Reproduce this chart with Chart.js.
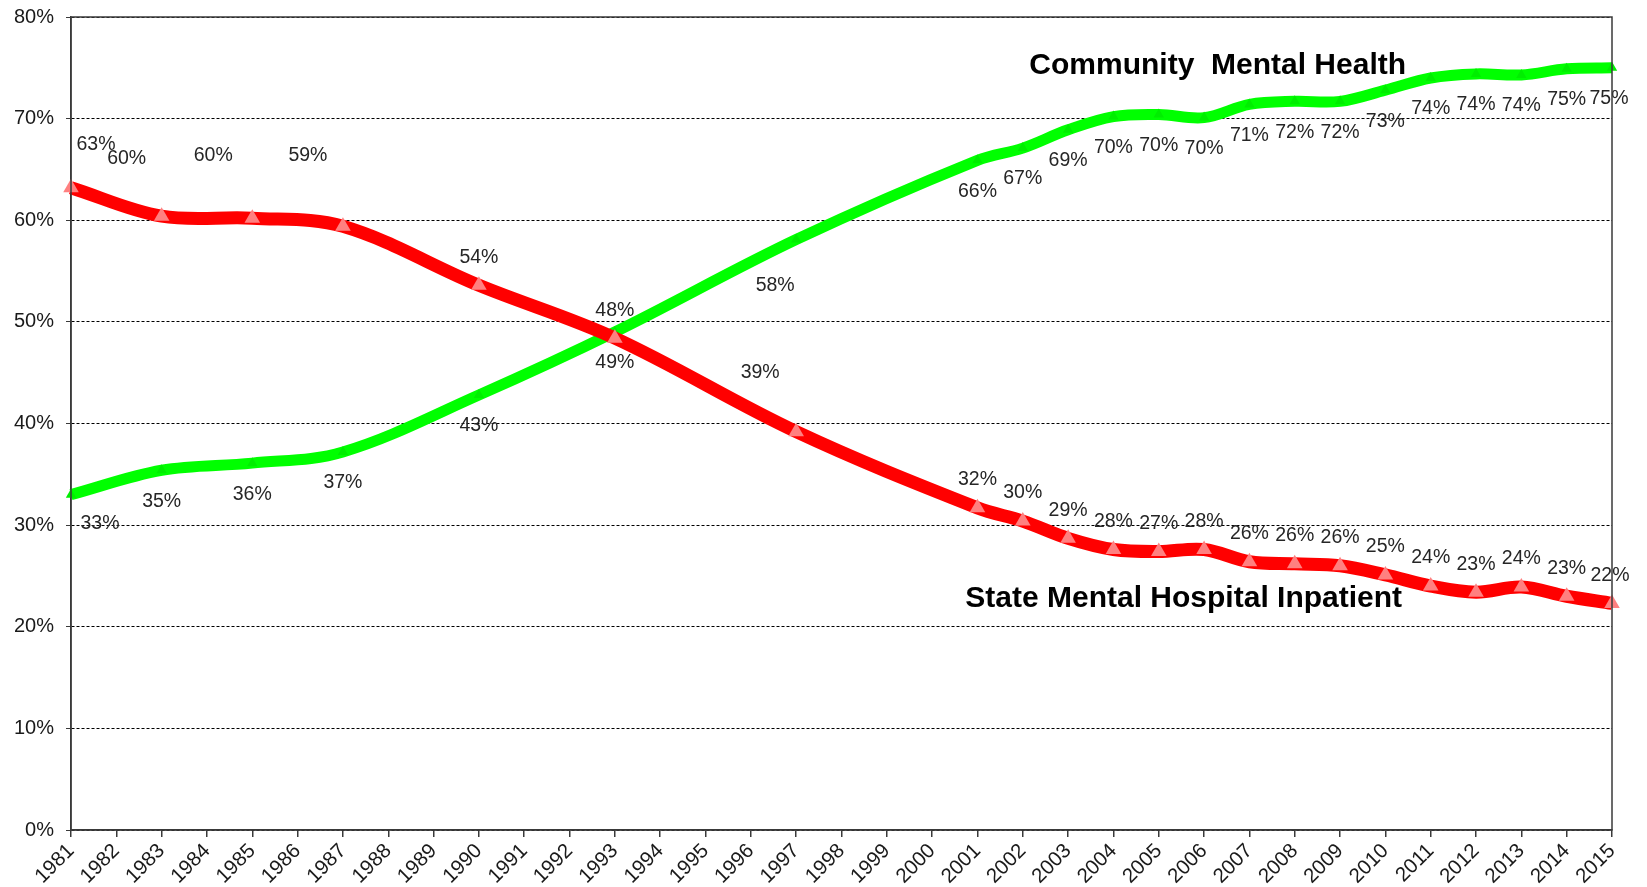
<!DOCTYPE html>
<html>
<head>
<meta charset="utf-8">
<script src="https://cdn.jsdelivr.net/npm/chart.js@4.4.1/dist/chart.umd.min.js"></script>
<style>
  html, body { margin: 0; padding: 0; background: #fff; overflow: hidden; }
  #wrap { width: 1647px; height: 892px; margin-top: -5px; }
</style>
</head>
<body>
<div id="wrap"><canvas id="mentalChart"></canvas></div>
<script>
// años del eje X
const years = ['1981','1982','1983','1984','1985','1986','1987','1988','1989','1990',
  '1991','1992','1993','1994','1995','1996','1997','1998','1999','2000',
  '2001','2002','2003','2004','2005','2006','2007','2008','2009','2010',
  '2011','2012','2013','2014','2015'];

// State Mental Hospital Inpatient (%)
const stateHospital = [63.2, null, 60.4, null, 60.2, null, 59.4, null, null, 53.6,
  null, null, 48.4, null, null, null, 39.2, null, null, null,
  31.7, 30.4, 28.7, 27.6, 27.4, 27.6, 26.4, 26.2, 26.0, 25.1,
  24.0, 23.4, 23.9, 23.0, 22.3];

// Community Mental Health (%)
const communityHealth = [33.0, null, 35.4, null, 36.1, null, 37.2, null, null, 42.8,
  null, null, 49.0, null, null, null, 58.1, null, null, null,
  65.9, 67.1, 68.9, 70.2, 70.4, 70.1, 71.4, 71.7, 71.7, 72.8,
  74.0, 74.4, 74.3, 74.9, 75.0];

const yTicks = [0, 10, 20, 30, 40, 50, 60, 70, 80];

const FONT = '"Liberation Sans", Arial, sans-serif';

// etiquetas de valor junto a cada punto (desplazamientos en px)
const pointLabels = {
    id: 'pointLabels',
    afterDatasetsDraw(chart) {
        const ctx = chart.ctx;
        ctx.save();
        ctx.font = '19.5px ' + FONT;
        ctx.fillStyle = '#262626';
        ctx.textAlign = 'center';
        ctx.textBaseline = 'middle';
        chart.data.datasets.forEach((ds, di) => {
            const meta = chart.getDatasetMeta(di);
            const shift = ds.labelShift || {};
            meta.data.forEach((pt, i) => {
                const v = ds.data[i];
                if (v === null) return;
                const s = shift[years[i]] || ds.labelDefault;
                ctx.fillText(Math.round(v) + '%', pt.x + s[0], pt.y + s[1]);
            });
        });
        ctx.restore();
    }
};

// marco del gráfico + rótulos de series
const frameAndNotes = {
    id: 'frameAndNotes',
    afterDraw(chart) {
        const { ctx, chartArea: a, scales } = chart;
        ctx.save();
        ctx.strokeStyle = '#3a3a3a';
        ctx.lineWidth = 1.5;
        ctx.strokeRect(a.left, a.top, a.right - a.left, a.bottom - a.top);
        ctx.font = 'bold 30px ' + FONT;
        ctx.fillStyle = '#000';
        ctx.textAlign = 'center';
        ctx.textBaseline = 'alphabetic';
        ctx.fillText('Community  Mental Health', scales.x.getPixelForValue(25.3), scales.y.getPixelForValue(74.4));
        ctx.fillText('State Mental Hospital Inpatient', scales.x.getPixelForValue(24.55), scales.y.getPixelForValue(21.9));
        ctx.restore();
    }
};

function createChart() {
    const ctx = document.getElementById('mentalChart').getContext('2d');
    new Chart(ctx, {
        type: 'line',
        data: {
            labels: years,
            datasets: [{
                label: 'State Mental Hospital Inpatient',
                data: stateHospital,
                borderColor: '#ff0000',
                borderWidth: 13,
                pointStyle: 'triangle',
                pointRadius: 9,
                pointBackgroundColor: '#ff8080',
                pointBorderWidth: 0,
                tension: 0.35,
                spanGaps: true,
                labelDefault: [0, -28],
                labelShift: { '1981': [25, -43], '1983': [-35, -58], '1985': [-39, -63], '1987': [-35, -71], '1997': [-36, -59], '2015': [-2, -28] }
            }, {
                label: 'Community Mental Health',
                data: communityHealth,
                borderColor: '#00ff00',
                borderWidth: 11,
                pointStyle: 'triangle',
                pointRadius: 6,
                pointBackgroundColor: '#00ee00',
                pointBorderWidth: 0,
                tension: 0.35,
                spanGaps: true,
                labelDefault: [0, 31],
                labelShift: { '1981': [29, 29], '1997': [-21, 46], '2015': [-3, 31] }
            }]
        },
        options: {
            responsive: true,
            maintainAspectRatio: false,
            animation: false,
            layout: { padding: { left: 0, right: 35, top: 4, bottom: 0 } },
            plugins: { legend: { display: false }, tooltip: { enabled: false } },
            scales: {
                x: {
                    grid: { drawOnChartArea: false, tickLength: 7, color: '#3a3a3a', lineWidth: 1.5 },
                    border: { color: '#3a3a3a', width: 1.5 },
                    ticks: { minRotation: 45, maxRotation: 45, autoSkip: false, padding: 2,
                             color: '#1a1a1a', font: { family: FONT, size: 20.5 } },
                    afterFit(scale) { scale.height = 57; }
                },
                y: {
                    min: 0, max: 80,
                    afterBuildTicks(scale) { scale.ticks = yTicks.map(v => ({ value: v })); },
                    grid: { color: '#000', lineWidth: 1, tickLength: 5, tickColor: '#3a3a3a', tickBorderDash: [] },
                    border: { color: '#3a3a3a', width: 1.5, dash: [3, 2] },
                    ticks: { padding: 12, color: '#1a1a1a', font: { family: FONT, size: 20, lineHeight: 1 },
                             callback: v => v + '%' },
                    afterFit(scale) { scale.width = 71; }
                }
            }
        },
        plugins: [pointLabels, frameAndNotes]
    });
}

createChart();
</script>
</body>
</html>
